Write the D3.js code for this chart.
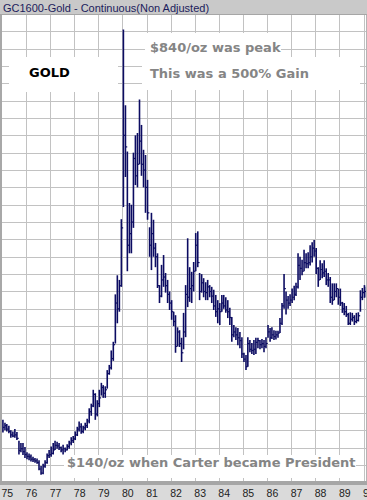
<!DOCTYPE html>
<html>
<head>
<meta charset="utf-8">
<script src="https://cdn.jsdelivr.net/npm/d3@7"></script>
<style>
body { margin: 0; background: #fff; }
svg { display: block; }
</style>
</head>
<body>
<script>
// monthly bars, Jan 1975 .. Feb 1990 (continuous gold futures, $/oz)
var highs = [
  198,193,191,188,180,178,182,177,162,158,158,151,
  142,140,138,134,132,131,128,118,122,128,140,146,
  152,158,162,160,158,152,155,150,156,162,168,170,
  178,186,195,192,188,193,200,218,226,250,244,232,
  250,262,258,256,284,293,318,333,415,448,440,545,
  873,742,662,573,570,660,690,694,752,708,665,656,
  613,531,556,544,504,486,431,466,483,452,440,420,
  405,385,379,358,353,340,383,431,512,462,454,471,
  521,524,452,450,443,436,440,431,428,423,414,405,
  400,414,414,410,405,392,376,362,358,357,350,341,
  314,310,341,336,331,336,340,340,336,338,336,341,
  362,357,358,353,352,352,374,400,450,420,412,415,
  425,430,435,486,480,475,492,486,488,500,505,509,
  495,462,474,469,474,460,452,445,434,434,434,425,
  425,402,400,395,383,384,383,379,383,384,422,426,
  431,428
];
var lows = [
  176,180,178,175,167,168,167,163,138,142,137,132,
  130,128,126,125,124,122,111,103,104,115,122,132,
  134,138,146,148,146,142,138,142,145,148,154,158,
  163,170,178,174,175,180,184,192,205,220,198,204,
  220,240,236,236,252,276,285,300,330,365,385,428,
  566,618,455,486,486,530,604,600,640,620,600,556,
  544,480,457,480,462,426,400,410,428,418,400,388,
  371,360,314,325,324,298,320,341,393,402,400,420,
  455,462,405,418,410,405,405,410,400,388,376,365,
  362,385,390,383,374,362,333,341,336,327,322,305,
  298,284,290,315,312,310,312,322,320,322,315,322,
  340,333,338,336,337,340,348,362,390,380,390,395,
  400,405,412,425,440,448,455,460,460,465,470,480,
  450,428,440,443,445,431,428,400,397,405,410,397,
  395,383,379,376,362,362,368,362,365,368,385,405,
  409,410
];
var closes = [
  185,188,182,178,172,170,172,166,145,148,143,138,
  135,134,130,129,127,124,113,106,118,124,136,138,
  140,146,154,153,150,146,148,146,152,158,162,165,
  172,182,186,178,184,188,196,212,222,242,208,226,
  236,254,244,250,278,288,304,328,400,390,430,530,
  690,670,500,520,540,650,620,640,680,640,630,600,
  556,500,520,495,480,430,412,440,445,430,415,400,
  385,368,325,350,330,314,350,415,410,425,430,455,
  500,470,420,435,420,418,428,420,412,395,385,390,
  385,400,395,388,385,375,345,350,345,340,335,312,
  303,290,330,320,318,320,332,335,328,330,325,330,
  350,340,345,342,345,348,365,395,425,405,400,405,
  410,415,428,465,460,455,470,468,470,480,495,490,
  460,440,458,452,455,440,440,410,405,420,425,410,
  400,390,385,380,365,372,375,368,370,378,410,418,
  420,418
];
var yearTicks = [1975,1976,1977,1978,1979,1980,1981,1982,1983,1984,1985,1986,1987,1988,1989,1990];
var priceGrid = [120,150,180,210,240,270,300,330,360,390,420,450,480,510,540,570,600,630,660,690,720,750,780,810,840,870];

var title = "GC1600-Gold - Continuous(Non Adjusted)";
var notes = [
  { text: "$840/oz was peak", x: 150, y: 52, color: "#858585" },
  { text: "This was a 500% Gain", x: 150, y: 78, color: "#858585" },
  { text: "GOLD", x: 29, y: 77, color: "#000" },
  { text: "$140/oz when Carter became President", x: 67, y: 467, color: "#858585" }
];

var width = 367, height = 500;
var plotTop = 15, plotBottom = 481;

var months = d3.timeMonth.range(new Date(1975, 0, 1), new Date(1990, 2, 1))
  .map(function (d) { return new Date(d.getFullYear(), d.getMonth(), 15); });

var data = months.map(function (d, i) {
  return { date: d, high: highs[i], low: lows[i], close: closes[i] };
});

var x = d3.scaleTime()
  .domain([new Date(1975, 0, 1), new Date(1990, 0, 1)])
  .range([2, 363.5]);
var y = d3.scaleLinear().domain([90, 900]).range([482.3, 13.9]);

var svg = d3.select("body").append("svg")
  .attr("width", width)
  .attr("height", height)
  .style("font-family", "'Liberation Sans', Arial, sans-serif");

svg.append("rect").attr("width", width).attr("height", height).attr("fill", "#fff");

svg.append("clipPath").attr("id", "plot")
  .append("rect").attr("x", 2).attr("y", plotTop).attr("width", width - 2).attr("height", plotBottom - plotTop);

// grid
var yearDates = yearTicks.map(function (yr) { return new Date(yr, 0, 1); });

svg.append("g")
  .attr("transform", "translate(0," + plotBottom + ")")
  .call(d3.axisBottom(x).tickValues(yearDates.slice(1)).tickSize(-(plotBottom - plotTop)).tickFormat(""))
  .call(function (g) {
    g.select(".domain").remove();
    g.selectAll("line").attr("stroke", "#c2c2c2").attr("shape-rendering", "crispEdges");
  });

svg.append("g")
  .attr("transform", "translate(" + width + ",0)")
  .call(d3.axisLeft(y).tickValues(priceGrid).tickSize(width).tickFormat(""))
  .call(function (g) {
    g.select(".domain").remove();
    g.selectAll("line").attr("stroke", "#c2c2c2").attr("shape-rendering", "crispEdges");
  });

// white boxes behind the notes
var boxes = [[145, 33, 136, 24], [142, 57, 218, 33], [9, 57, 109, 35], [64, 455, 292, 23]];
svg.selectAll("rect.box").data(boxes).enter().append("rect")
  .attr("class", "box")
  .attr("x", function (d) { return d[0]; })
  .attr("y", function (d) { return d[1]; })
  .attr("width", function (d) { return d[2]; })
  .attr("height", function (d) { return d[3]; })
  .attr("fill", "#fff");

// bars
var bars = svg.append("g").attr("clip-path", "url(#plot)")
  .attr("stroke", "#0c0c62")
  .attr("stroke-width", 1.6);

bars.selectAll("line.hl").data(data).enter().append("line")
  .attr("class", "hl")
  .attr("x1", function (d) { return x(d.date); })
  .attr("x2", function (d) { return x(d.date); })
  .attr("y1", function (d) { return y(d.high); })
  .attr("y2", function (d) { return y(d.low); });

bars.selectAll("line.cl").data(data).enter().append("line")
  .attr("class", "cl")
  .attr("x1", function (d) { return x(d.date); })
  .attr("x2", function (d) { return x(d.date) + 1.8; })
  .attr("y1", function (d) { return y(d.close); })
  .attr("y2", function (d) { return y(d.close); })
  .attr("stroke-width", 1.2);

// notes
svg.selectAll("text.note").data(notes).enter().append("text")
  .attr("class", "note")
  .attr("x", function (d) { return d.x; })
  .attr("y", function (d) { return d.y; })
  .attr("fill", function (d) { return d.color; })
  .style("font-family", "'DejaVu Sans', Verdana, sans-serif")
  .style("font-weight", "bold")
  .style("font-size", "13px")
  .text(function (d) { return d.text; });

// title bar
svg.append("rect").attr("width", width).attr("height", plotTop).attr("fill", "#c9c9c9");
svg.append("line").attr("x1", 0).attr("x2", width).attr("y1", plotTop - 0.5).attr("y2", plotTop - 0.5)
  .attr("stroke", "#a6a6a6");
svg.append("text").attr("x", 3).attr("y", 12)
  .attr("fill", "#1c1c5c")
  .style("font-size", "11px")
  .text(title);

// frame
svg.append("rect").attr("x", 0).attr("y", plotTop).attr("width", 2).attr("height", plotBottom - plotTop).attr("fill", "#a8a8a8");
svg.append("line").attr("x1", width - 0.5).attr("x2", width - 0.5).attr("y1", plotTop).attr("y2", plotBottom)
  .attr("stroke", "#b4b4b4");

// bottom axis
svg.append("rect").attr("x", 0).attr("y", plotBottom).attr("width", width).attr("height", 4).attr("fill", "#a6a6a6");
svg.append("rect").attr("x", 0).attr("y", plotBottom + 4).attr("width", width).attr("height", height - plotBottom - 4).attr("fill", "#dadada");

svg.append("g")
  .attr("transform", "translate(0,497)")
  .call(d3.axisBottom(x).tickValues(yearDates).tickSize(0).tickPadding(0).tickFormat(d3.timeFormat("%y")))
  .call(function (g) {
    g.select(".domain").remove();
    g.selectAll("text")
      .attr("y", 0)
      .attr("dy", null)
      .attr("dx", -1)
      .attr("text-anchor", "start")
      .attr("fill", "#222")
      .style("font-size", "10.5px")
      .style("font-family", "'Liberation Sans', Arial, sans-serif");
  });
</script>
</body>
</html>
